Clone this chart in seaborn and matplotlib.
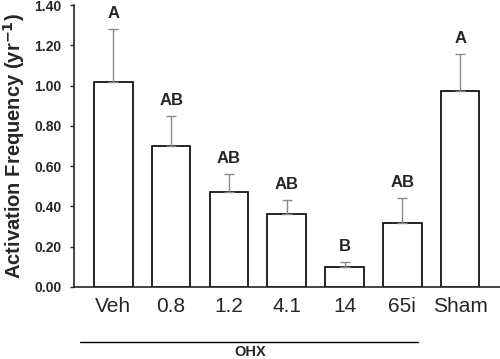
import numpy as np
import pandas as pd
import matplotlib
matplotlib.use('Agg')
import matplotlib.pyplot as plt
import seaborn as sns

groups = ['Veh', '0.8', '1.2', '4.1', '14', '65i', 'Sham']
means = [1.02, 0.70, 0.47, 0.36, 0.10, 0.32, 0.975]
errs = [0.26, 0.15, 0.09, 0.07, 0.025, 0.12, 0.18]
letters = ['A', 'AB', 'AB', 'AB', 'B', 'AB', 'A']

df = pd.DataFrame({'group': groups, 'freq': means})

sns.set_style('ticks')
plt.rcParams['font.family'] = ['Liberation Sans', 'DejaVu Sans']

fig = plt.figure(figsize=(5, 3.59), dpi=100)
ax = fig.add_axes([0.148, 0.2006, 0.852, 0.7854])

sns.barplot(data=df, x='group', y='freq', color='white', edgecolor='black',
            linewidth=1.2, width=0.67, errorbar=None, ax=ax)
x = np.arange(len(groups))
ax.errorbar(x, means, yerr=[np.zeros(len(errs)), errs], fmt='none',
            ecolor='#8a8a8a', elinewidth=1, capsize=3.5, capthick=1)
for xi, m, e, lab in zip(x, means, errs, letters):
    ax.text(xi, m + e + 0.04, lab, ha='center', va='bottom',
            fontsize=12, fontweight='bold')

ax.set_xlim(-0.68, 6.69)
ax.set_ylim(0, 1.40)
ax.set_yticks(np.arange(0, 1.41, 0.2))
ax.set_yticklabels([f'{v:.2f}' for v in np.arange(0, 1.41, 0.2)],
                   fontsize=10, fontweight='bold')
ax.tick_params(axis='y', length=3, width=1, pad=6)
ax.tick_params(axis='x', length=0, labelsize=15, pad=7)
ax.set_xlabel('')
ax.set_ylabel('Activation Frequency (yr$^{\\mathbf{-1}}$)', fontsize=14.5,
              fontweight='bold', labelpad=5)
for s in ['top', 'right']:
    ax.spines[s].set_visible(False)
for s in ['left', 'bottom']:
    ax.spines[s].set_linewidth(1.2)

fig.add_artist(plt.Line2D([80 / 500, 418 / 500], [1 - 342 / 359, 1 - 342 / 359],
                          color='black', linewidth=1))
fig.text(250 / 500, 1 - 345 / 359, 'OHX', ha='center', va='top',
         fontsize=10.5, fontweight='bold')

fig.savefig('out.png', dpi=100)
